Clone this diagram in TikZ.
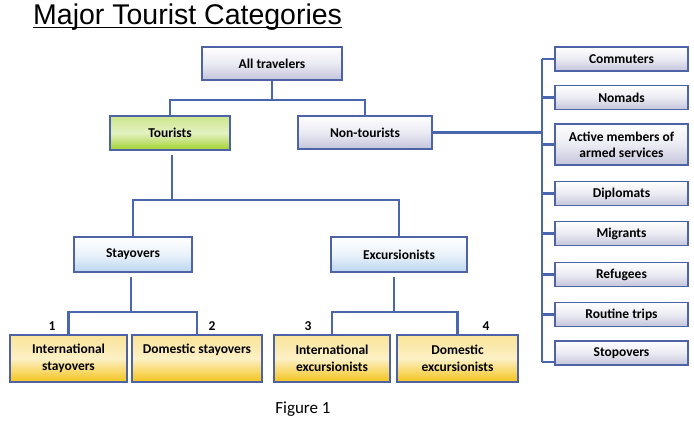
\documentclass[tikz,border=0pt]{standalone}
\usepackage{fontspec}
\setmainfont{Carlito}
\newfontfamily\titlefont{Liberation Sans}
\usepackage{tikz}
\definecolor{framecol}{HTML}{4E63A6}
\definecolor{linkcol}{HTML}{4A67AE}
\definecolor{lavender}{HTML}{C4C4DC}
\definecolor{skyblue}{HTML}{BBD5EF}
\definecolor{limegreen}{HTML}{A2D12E}
\definecolor{sunyellow}{HTML}{F4C41A}

\begin{document}
\begin{tikzpicture}[x=1pt,y=-1pt,
		box/.style={draw=framecol,line width=1.8pt,inner sep=1pt,align=center,
			font=\fontsize{13.5}{17}\selectfont\bfseries},
		graybox/.style={box,top color=white,bottom color=lavender,middle color=lavender!35},
		greenbox/.style={box,top color=limegreen!55,bottom color=limegreen,middle color=limegreen!30},
		bluebox/.style={box,top color=white,bottom color=skyblue,middle color=skyblue!30},
		yellowbox/.style={box,top color=sunyellow!45,bottom color=sunyellow,middle color=sunyellow!25},
		sidebox/.style={graybox,minimum width=133pt,minimum height=24pt},
		link/.style={draw=linkcol,line width=2.2pt},
		num/.style={font=\fontsize{13.5}{15}\selectfont\bfseries}]
		\useasboundingbox (0,0) rectangle (694,424);
		\node[anchor=base west,inner sep=0pt,font=\titlefont\fontsize{28.5}{30}\selectfont] (title) at (33,24) {Major Tourist Categories};
		\draw[line width=1.2pt] ([yshift=-3.5pt]title.base west) -- ([yshift=-3.5pt]title.base east);
		% main tree
		\node[graybox,minimum width=140pt,minimum height=33pt] (all) at (272,63.5) {All travelers};
		\node[greenbox,minimum width=120pt,minimum height=34pt] (tour) at (170,133) {Tourists};
		\node[graybox,minimum width=134pt,minimum height=33pt] (nont) at (365,132.5) {Non-tourists};
		\node[bluebox,minimum width=118pt,minimum height=35pt] (stay) at (133,254.5) {Stayovers};
		\node[bluebox,minimum width=136pt,minimum height=35pt] (exc) at (399,254.5) {Excursionists};
		\node[yellowbox,minimum width=117pt,minimum height=47pt] (intstay) at (68.5,358.5) {International\\stayovers};
		\node[yellowbox,minimum width=130pt,minimum height=47pt,text depth=19pt] (domstay) at (197,358.5) {Domestic stayovers};
		\node[yellowbox,minimum width=116pt,minimum height=47pt] (intexc) at (332,358.5) {International\\excursionists};
		\node[yellowbox,minimum width=121pt,minimum height=47pt] (domexc) at (457.5,358.5) {Domestic\\excursionists};
		\node[num] (n1) at (52,326) {1};
		\node[num] (n2) at (212,326) {2};
		\node[num] (n3) at (308,326) {3};
		\node[num] (n4) at (486,326) {4};
		% non-tourist list
		\node[sidebox] (commuters) at (621.5,59) {Commuters};
		\node[sidebox] (nomads) at (621.5,97.5) {Nomads};
		\node[sidebox,minimum height=41pt,font=\fontsize{13.5}{16}\selectfont\bfseries] (armed) at (621.5,144.5) {Active members of\\armed services};
		\node[sidebox] (diplomats) at (621.5,193.5) {Diplomats};
		\node[sidebox] (migrants) at (621.5,233.5) {Migrants};
		\node[sidebox] (refugees) at (621.5,274.5) {Refugees};
		\node[sidebox] (routine) at (621.5,314.5) {Routine trips};
		\node[sidebox] (stopovers) at (621.5,353) {Stopovers};
		\node[font=\fontsize{17}{20}\selectfont] (caption) at (303,409) {Figure 1};
		% connectors
		\coordinate (topfork) at (268,100);
		\coordinate (midfork) at (172,200);
		\coordinate (stayfork) at (131,312);
		\coordinate (excfork) at (394,312);
		\coordinate (bustop) at (542,59);
		\coordinate (busbot) at (542,362);
		\draw[link] (all.south) -- (all.south |- topfork);
		\draw[link] (tour.north) |- (topfork) -| (nont.north);
		\draw[link,shorten <=4pt] (midfork |- tour.south) -- (midfork);
		\draw[link] (stay.north) |- (midfork) -| (exc.north);
		\draw[link,shorten <=4pt] (stayfork |- stay.south) -- (stayfork);
		\draw[link] (intstay.north) |- (stayfork) -| (domstay.north);
		\draw[link,shorten <=4pt] (excfork |- exc.south) -- (excfork);
		\draw[link] (intexc.north) |- (excfork) -| (domexc.north);
		\draw[link] (bustop) -- (busbot);
		\draw[link] (nont.east) -- (nont.east -| bustop);
		\foreach \item in {commuters,nomads,armed,diplomats,migrants,refugees,routine}
			\draw[link] (\item.west) -- (\item.west -| bustop);
		\draw[link] (busbot) -- (busbot -| stopovers.west);
\end{tikzpicture}
\end{document}
